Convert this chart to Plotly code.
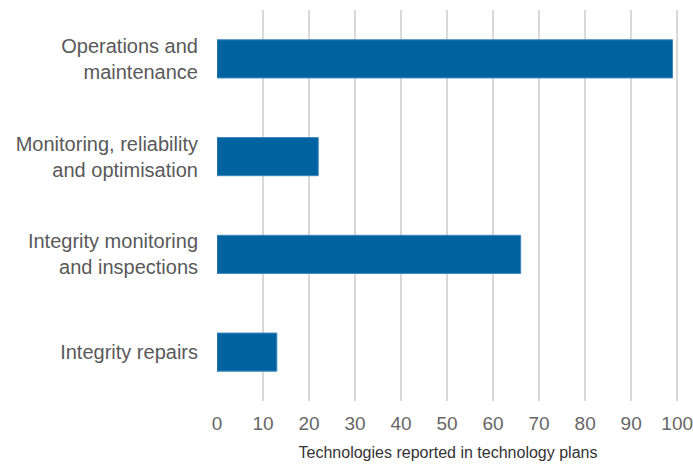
import plotly.graph_objects as go

categories = ["Operations and<br>maintenance", "Monitoring, reliability<br>and optimisation",
              "Integrity monitoring<br>and inspections", "Integrity repairs"]
values = [99, 22, 66, 13]
x_ticks = list(range(0, 101, 10))

fig = go.Figure(go.Bar(
    x=values, y=categories, orientation="h",
    marker=dict(color="#0063A1", line=dict(color="#3F88BC", width=1)),
    width=0.39,
))
fig.update_layout(
    width=693, height=464,
    margin=dict(l=217, r=14, t=10, b=63),
    paper_bgcolor="white", plot_bgcolor="white",
    font=dict(family="Liberation Sans, Arial, sans-serif", color="#595959"),
    showlegend=False,
)
fig.update_xaxes(
    range=[0, 100.4], tickvals=x_ticks, ticks="",
    showgrid=True, gridcolor="#d9d9d9", gridwidth=2,
    zeroline=False, showline=False, automargin=False,
    tickfont=dict(size=19, color="#666666"), ticklabelstandoff=9,
    ticklabeloverflow="allow",
    title=dict(text="Technologies reported in technology plans",
               font=dict(size=16, color="#333333"), standoff=13),
)
fig.update_yaxes(
    showgrid=False, zeroline=False, showline=False, automargin=False,
    tickfont=dict(size=20, color="#595959"), ticklabelstandoff=18,
    range=[3.5, -0.5],
)
fig.write_html("out.html")
